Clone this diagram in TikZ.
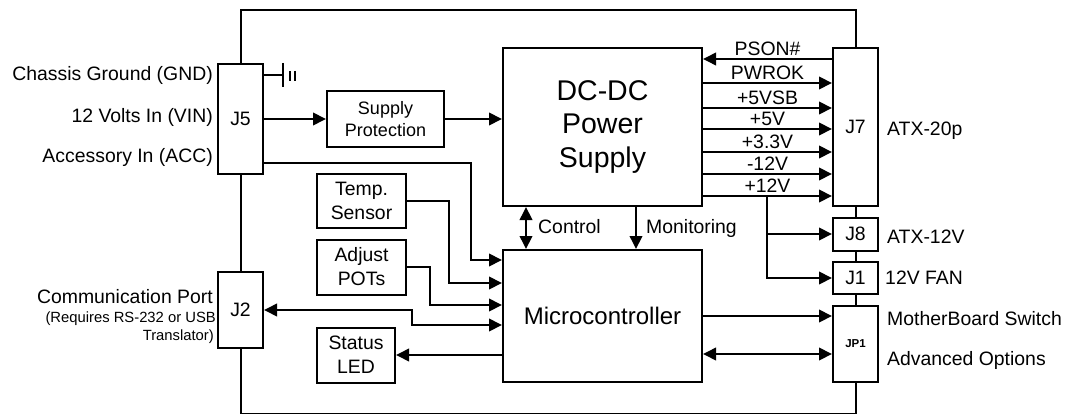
\documentclass[tikz,border=0pt]{standalone}
\usepackage{fontspec}
\setmainfont{Liberation Sans}
\usetikzlibrary{arrows.meta}
\begin{document}
\begin{tikzpicture}[x=1pt,y=-1pt,
  ln/.style={line width=2pt},
  tip/.tip={Triangle[length=13pt,width=12.5pt]},
  arr/.style={ln,-tip},
  arrb/.style={ln,tip-tip},
  box/.style={draw,line width=2pt,fill=white,inner sep=0pt,align=center,font=\fontsize{19.4}{24}\selectfont},
  lbl/.style={inner sep=0pt,font=\fontsize{19.4}{24}\selectfont},
  sig/.style={inner sep=0pt,font=\fontsize{19.4}{24}\selectfont,above=2.5pt},
]
\useasboundingbox (0,0) rectangle (1067,414);
% outer frame
\draw[ln] (240.5,10) rectangle (855.5,414.2);

% boxes
\node[box,minimum width=45pt,minimum height=110pt] (J5) at (240.5,119) {J5};
\node[box,minimum width=45pt,minimum height=76pt] (J2) at (240.5,310) {J2};
\node[box,minimum width=117pt,minimum height=56pt,font=\fontsize{18}{22}\selectfont] (SP) at (385.5,119) {Supply\\Protection};
\node[box,minimum width=199pt,minimum height=158pt,font=\fontsize{28.5}{33.5}\selectfont] (DC) at (602.5,127) {DC-DC\\Power\\Supply};
\node[box,minimum width=45pt,minimum height=158pt] (J7) at (855.5,127) {J7};
\node[box,minimum width=45pt,minimum height=33pt] (J8) at (855.5,234) {J8};
\node[box,minimum width=45pt,minimum height=32pt] (J1) at (855.5,278) {J1};
\node[box,minimum width=45pt,minimum height=76pt,font=\fontsize{11.5}{12}\selectfont\bfseries] (JP1) at (855.5,344) {JP1};
\node[box,minimum width=199pt,minimum height=132pt,font=\fontsize{24}{28}\selectfont] (MC) at (602.5,316) {Microcontroller};
\node[box,minimum width=89pt,minimum height=54pt] (TS) at (361.5,201) {Temp.\\Sensor};
\node[box,minimum width=89pt,minimum height=55pt] (AP) at (361.5,267) {Adjust\\POTs};
\node[box,minimum width=78pt,minimum height=55pt] (SL) at (356,355) {Status\\LED};

% left labels
\node[lbl,anchor=base east] (lg) at (213,81) {Chassis Ground (GND)};
\node[lbl,anchor=base east] (lv) at (213,123) {12 Volts In (VIN)};
\node[lbl,anchor=base east] (la) at (213,163) {Accessory In (ACC)};
\node[lbl,anchor=base east] (lc) at (213,303) {Communication Port};
\node[inner sep=0pt,font=\fontsize{14.8}{18}\selectfont,anchor=base east] (lr) at (216,322.7) {(Requires RS-232 or USB};
\node[inner sep=0pt,font=\fontsize{14.8}{18}\selectfont,anchor=base east] (lt) at (214,340.7) {Translator)};

% right labels
\node[lbl,anchor=base west] (r20) at (887,136) {ATX-20p};
\node[lbl,anchor=base west] (r12) at (887,243) {ATX-12V};
\node[lbl,anchor=base west] (rfan) at (885,284) {12V FAN};
\node[lbl,anchor=base west] (rmb) at (887,325) {MotherBoard Switch};
\node[lbl,anchor=base west] (rad) at (887,365.7) {Advanced Options};

% ground symbol
\coordinate (gnd) at (283,75);
\draw[ln] (J5.east |- gnd) -- (gnd);
\draw[ln] (283,63) -- (283,87);
\draw[line width=1.4pt] (290,71) -- (290,81);
\draw[line width=1.4pt] (295,71) -- (295,81);

% J5 -> SP -> DC
\draw[arr] (J5.east |- SP.west) -- (SP.west);
\draw[arr] (SP.east) -- (SP.east -| DC.west);

% ACC to MC
\coordinate (acc1) at (471,163);
\coordinate (acc2) at (471,260);
\draw[arr] (J5.east |- acc1) -- (acc1) -- (acc2) -- (MC.west |- acc2);
% Temp sensor
\coordinate (t1) at (449,283);
\draw[arr] (TS.east) -| (t1) -- (MC.west |- t1);
% Adjust POTs
\coordinate (a1) at (430,305);
\draw[arr] (AP.east) -| (a1) -- (MC.west |- a1);
% J2 comm
\coordinate (c1) at (412,325);
\draw[arrb] (J2.east) -| (c1) -- (MC.west |- c1);
% Status LED
\draw[arr] (MC.west |- SL.east) -- (SL.east);

% Control / Monitoring
\coordinate (ctl) at (526,230);
\coordinate (mon) at (636,230);
\draw[arrb] (DC.south -| ctl) -- (MC.north -| ctl);
\draw[arr] (DC.south -| mon) -- (MC.north -| mon);
\node[lbl,anchor=base west] (lctl) at (538,233) {Control};
\node[lbl,anchor=base west] (lmon) at (646,233) {Monitoring};

% J7 signals
\coordinate (s0) at (767,59);
\coordinate (s1) at (767,83);
\coordinate (s2) at (767,108);
\coordinate (s3) at (767,129);
\coordinate (s4) at (767,152);
\coordinate (s5) at (767,174);
\coordinate (s6) at (767,196);
\draw[arr] (J7.west |- s0) -- (DC.east |- s0) node[sig,midway] {PSON\#};
\draw[arr] (DC.east |- s1) -- (J7.west |- s1) node[sig,midway] {PWROK};
\draw[arr] (DC.east |- s2) -- (J7.west |- s2) node[sig,midway] {+5VSB};
\draw[arr] (DC.east |- s3) -- (J7.west |- s3) node[sig,midway] {+5V};
\draw[arr] (DC.east |- s4) -- (J7.west |- s4) node[sig,midway] {+3.3V};
\draw[arr] (DC.east |- s5) -- (J7.west |- s5) node[sig,midway] {-12V};
\draw[arr] (DC.east |- s6) -- (J7.west |- s6) node[sig,midway] {+12V};
% +12V branch
\draw[arr] (s6) |- (J8.west);
\draw[arr] (s6) |- (J1.west);

% MC -> JP1
\coordinate (jp) at (700,354);
\draw[arr] (MC.east) -- (MC.east -| JP1.west);
\draw[arrb] (MC.east |- jp) -- (JP1.west |- jp);
\end{tikzpicture}
\end{document}
